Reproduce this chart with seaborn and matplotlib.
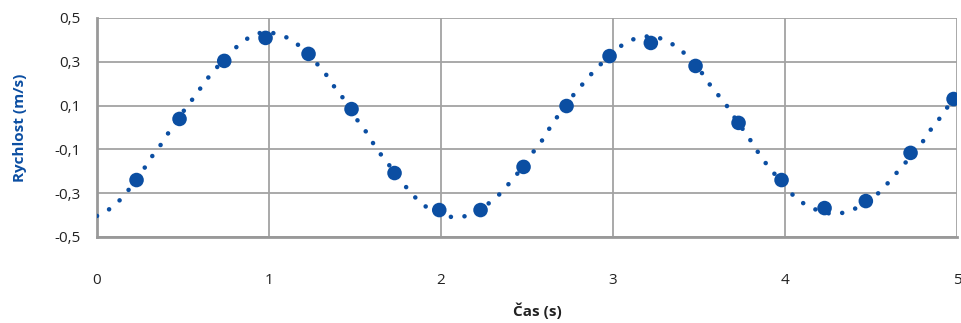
import numpy as np
import pandas as pd
import matplotlib
matplotlib.use("Agg")
import matplotlib.pyplot as plt
from matplotlib.ticker import MultipleLocator, FixedLocator, FuncFormatter
import seaborn as sns

# measured points
cas = [0.23, 0.48, 0.74, 0.98, 1.23, 1.48, 1.73, 1.99, 2.23, 2.48,
       2.73, 2.98, 3.22, 3.48, 3.73, 3.98, 4.23, 4.47, 4.73, 4.98]
rychlost = [-0.240, 0.039, 0.304, 0.409, 0.336, 0.084, -0.208, -0.377, -0.377, -0.180,
            0.098, 0.326, 0.386, 0.281, 0.021, -0.240, -0.368, -0.336, -0.116, 0.130]

# dotted trend curve
curve_t = [0.0, 0.07, 0.13, 0.18, 0.27, 0.31, 0.36, 0.40, 0.44, 0.53,
           0.58, 0.62, 0.67, 0.77, 0.83, 0.89, 0.96, 1.04, 1.11, 1.17,
           1.28, 1.33, 1.37, 1.42, 1.50, 1.55, 1.59, 1.63, 1.68, 1.77,
           1.82, 1.87, 1.93, 2.00, 2.08, 2.15, 2.22, 2.28, 2.34, 2.39,
           2.44, 2.53, 2.58, 2.62, 2.66, 2.75, 2.80, 2.85, 2.90, 3.01,
           3.07, 3.14, 3.22, 3.29, 3.36, 3.42, 3.52, 3.56, 3.61, 3.66,
           3.70, 3.79, 3.83, 3.87, 3.92, 4.02, 4.07, 4.14, 4.21, 4.28,
           4.36, 4.42, 4.55, 4.60, 4.65, 4.70, 4.80, 4.84, 4.89, 4.93, 5.00]
curve_v = [-0.404, -0.374, -0.334, -0.289, -0.193, -0.142, -0.092, -0.043, 0.005, 0.104,
           0.153, 0.202, 0.250, 0.340, 0.380, 0.415, 0.435, 0.430, 0.409, 0.377,
           0.290, 0.244, 0.196, 0.147, 0.047, -0.002, -0.052, -0.103, -0.152, -0.247,
           -0.293, -0.336, -0.372, -0.398, -0.412, -0.404, -0.376, -0.345, -0.305, -0.261,
           -0.215, -0.118, -0.069, -0.017, 0.031, 0.130, 0.176, 0.223, 0.267, 0.351,
           0.386, 0.410, 0.418, 0.404, 0.374, 0.336, 0.246, 0.199, 0.150, 0.101,
           0.053, -0.047, -0.097, -0.145, -0.194, -0.287, -0.328, -0.362, -0.385, -0.396,
           -0.387, -0.366, -0.296, -0.252, -0.206, -0.161, -0.066, -0.017, 0.031, 0.080, 0.140]

y_ticks = [-0.5, -0.3, -0.1, 0.1, 0.3, 0.5]
y_minor = [-0.4, -0.2, 0.0, 0.2, 0.4]
x_ticks = [0, 1, 2, 3, 4, 5]

blue = '#0b4ea2'
grid = '#a3a3a3'

sns.set_style('white')
plt.rcParams['font.family'] = ['Open Sans', 'DejaVu Sans']

fig = plt.figure(figsize=(9.62, 3.23), dpi=100)
ax = fig.add_axes([0.1008, 0.2663, 0.894, 0.678])

pts = pd.DataFrame({'t': cas, 'v': rychlost})
trend = pd.DataFrame({'t': curve_t, 'v': curve_v})

sns.lineplot(data=trend, x='t', y='v', ax=ax, color=blue, lw=3.3,
             linestyle=(0, (0.01, 3.0)), dash_capstyle='round',
             estimator=None, sort=False, zorder=3)
sns.scatterplot(data=pts, x='t', y='v', ax=ax, color=blue, s=110,
                edgecolor='none', zorder=4)

ax.set_xlim(0, 5)
ax.set_ylim(-0.5, 0.5)
ax.set_xticks(x_ticks)
ax.set_yticks(y_ticks)
ax.xaxis.set_minor_locator(MultipleLocator(0.2))
ax.yaxis.set_minor_locator(FixedLocator(y_minor))
ax.yaxis.set_major_formatter(FuncFormatter(lambda v, p: f'{v:.1f}'.replace('.', ',')))

ax.grid(True, which='major', color=grid, lw=1.3)
ax.tick_params(axis='both', which='major', length=0, labelsize=11, colors='#222222')
ax.tick_params(axis='x', which='major', pad=26)
ax.tick_params(axis='y', which='major', pad=12)
ax.tick_params(axis='x', which='minor', direction='in', length=3.5, width=1, color=grid)
ax.tick_params(axis='y', which='minor', direction='in', length=15, width=1.1, color=grid)

for side in ['top', 'right']:
    ax.spines[side].set_visible(False)
for side in ['left', 'bottom']:
    ax.spines[side].set_color('#999999')
    ax.spines[side].set_linewidth(2)

ax.set_xlabel('Čas (s)', fontsize=11, fontweight='bold', color='#222222')
ax.set_ylabel('Rychlost (m/s)', fontsize=11, fontweight='bold', color=blue)
ax.xaxis.set_label_coords(0.512, -0.30)
ax.yaxis.set_label_coords(-0.081, 0.5)

fig.savefig('out.png', dpi=100)
